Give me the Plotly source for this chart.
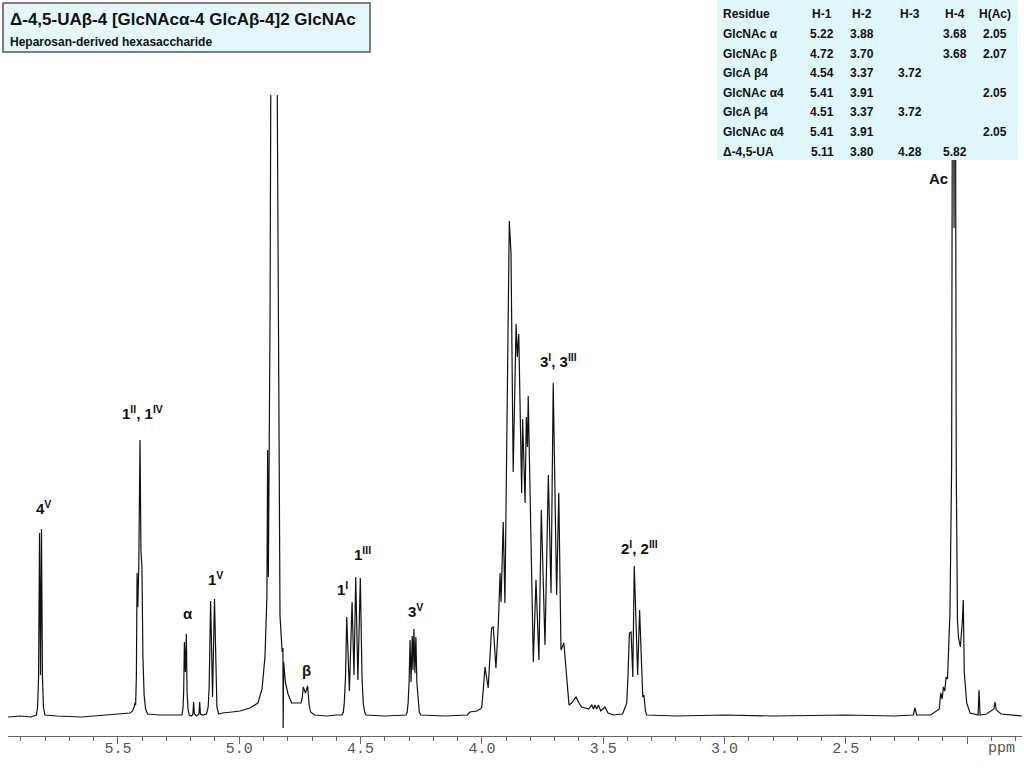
import plotly.graph_objects as go

# 1H NMR spectrum: chemical shift (ppm) and relative intensity
ppm = [5.953, 5.90, 5.86, 5.842,
       5.836, 5.831, 5.827, 5.823, 5.819, 5.815, 5.811, 5.807, 5.801,
       5.75, 5.65, 5.55, 5.47, 5.45,
       5.440, 5.433, 5.430, 5.427, 5.424, 5.421, 5.418, 5.414, 5.409, 5.405, 5.401, 5.397, 5.392, 5.386, 5.378,
       5.33, 5.26,
       5.236, 5.232, 5.229, 5.226, 5.222, 5.218, 5.215, 5.211, 5.206,
       5.196, 5.191, 5.188, 5.185, 5.176, 5.166, 5.163, 5.160, 5.150,
       5.135, 5.128, 5.124, 5.118, 5.110, 5.102, 5.096, 5.092, 5.085,
       5.07, 5.03, 4.997, 4.956, 4.923, 4.906, 4.894, 4.886, 4.883, 4.880, 4.873, 4.869,
       4.857, 4.845, 4.838, 4.832, 4.823, 4.820, 4.819, 4.817, 4.810, 4.799, 4.784, 4.766, 4.746,
       4.741, 4.736, 4.727, 4.718, 4.712, 4.706, 4.690,
       4.64, 4.60,
       4.576, 4.571, 4.567, 4.562, 4.557, 4.546, 4.535, 4.527, 4.520, 4.511, 4.501, 4.494, 4.489, 4.483, 4.478,
       4.40, 4.33,
       4.312, 4.308, 4.304, 4.300, 4.296, 4.292, 4.287, 4.284, 4.280, 4.276, 4.272, 4.268, 4.263, 4.258, 4.252,
       4.15, 4.06, 4.049, 4.020, 4.001, 3.995, 3.987, 3.974, 3.960, 3.953, 3.942, 3.932, 3.925, 3.921,
       3.912, 3.905, 3.897, 3.887, 3.880, 3.871, 3.859, 3.854, 3.848, 3.836, 3.832, 3.822, 3.817,
       3.812, 3.809, 3.799, 3.788, 3.777, 3.765, 3.755, 3.740, 3.726, 3.715, 3.706, 3.692, 3.683,
       3.674, 3.662, 3.650, 3.641, 3.630, 3.612, 3.600, 3.589, 3.560, 3.547, 3.540, 3.534, 3.527,
       3.520, 3.510, 3.493, 3.480, 3.458, 3.420,
       3.403, 3.398, 3.392, 3.385, 3.378, 3.372, 3.358, 3.350, 3.344, 3.337, 3.332, 3.326, 3.321,
       3.20, 3.00, 2.80, 2.50, 2.30, 2.222, 2.215, 2.208, 2.15,
       2.115, 2.109, 2.103, 2.098, 2.092, 2.087, 2.081, 2.078, 2.071, 2.064, 2.059, 2.054, 2.050,
       2.045, 2.040, 2.036, 2.028, 2.020, 2.016, 2.012, 2.002, 1.988, 1.955, 1.951, 1.947,
       1.92, 1.890, 1.885, 1.880, 1.86, 1.774]
intensity = [0, 1, 0, 1,
             2, 10, 40, 184, 42, 188, 40, 10, 2,
             1, 0, 2, 3, 4,
             6, 10, 14, 12, 40, 144, 110, 150, 277, 165, 150, 60, 22, 8, 3,
             2, 2,
             2, 8, 25, 75, 45, 83, 25, 8, 2,
             1, 3, 15, 3, 1, 3, 15, 3, 2,
             3, 10, 30, 116, 20, 118, 30, 10, 3,
             4, 5, 6, 9, 14, 28, 60, 120, 267, 140, 400, 700,
             3000, 700, 300, 101, 65, 69, -11, 55, 35, 23, 14, 14, 14,
             18, 30, 24, 31, 12, 5, 2,
             1, 2,
             2, 5, 14, 40, 100, 26, 115, 42, 140, 37, 139, 40, 14, 5, 2,
             1, 2,
             2, 5, 14, 35, 77, 35, 81, 47, 88, 44, 80, 35, 14, 5, 2,
             1, 2, 5, 6, 9, 25, 50, 29, 89, 90, 49, 94, 144, 115,
             195, 114, 300, 496, 464, 245, 393, 360, 383, 224, 298, 214, 300,
             270, 321, 182, 55, 137, 57, 207, 72, 242, 124, 334, 122, 224,
             67, 74, 34, 12, 14, 20, 14, 10, 8, 12, 8, 12, 8,
             12, 6, 10, 4, 2, 3,
             14, 40, 84, 85, 40, 151, 42, 107, 69, 20, 22, 6, 2,
             1, 2, 1, 2, 1, 2, 9, 2, 2,
             8, 24, 18, 30, 26, 40, 38, 57, 104, 250, 900, 489, 900,
             250, 97, 80, 70, 95, 117, 45, 14, 4, 2, 27, 2,
             3, 8, 15, 7, 3, 1]

# peak assignments
label_text = ["4<sup>V</sup>", "1<sup>II</sup>, 1<sup>IV</sup>", "α", "1<sup>V</sup>", "β",
              "1<sup>I</sup>", "1<sup>III</sup>", "3<sup>V</sup>", "3<sup>I</sup>, 3<sup>III</sup>",
              "2<sup>I</sup>, 2<sup>III</sup>", "Ac"]
label_ppm = [5.805, 5.397, 5.211, 5.096, 4.723, 4.573, 4.490, 4.273, 3.686, 3.352, 2.120]
label_height = [210, 305, 104, 139, 47, 129, 164, 107, 357, 170, 539]

# chemical shift table
table_header = ["Residue", "H-1", "H-2", "H-3", "H-4", "H(Ac)"]
residues = ["GlcNAc α", "GlcNAc β", "GlcA β4", "GlcNAc α4", "GlcA β4", "GlcNAc α4", "Δ-4,5-UA"]
h1 = ["5.22", "4.72", "4.54", "5.41", "4.51", "5.41", "5.11"]
h2 = ["3.88", "3.70", "3.37", "3.91", "3.37", "3.91", "3.80"]
h3 = ["", "", "3.72", "", "3.72", "", "4.28"]
h4 = ["3.68", "3.68", "", "", "", "", "5.82"]
hac = ["2.05", "2.07", "", "2.05", "", "2.05", ""]

tick_vals = [5.5, 5.0, 4.5, 4.0, 3.5, 3.0, 2.5, 2.0]
tick_text = ["5.5", "5.0", "4.5", "4.0", "3.5", "3.0", "2.5", ""]

title = "Δ-4,5-UAβ-4 [GlcNAcα-4 GlcAβ-4]2 GlcNAc"
subtitle = "Heparosan-derived hexasaccharide"

# page geometry (pixels)
W, H = 1024, 768
L, R, T, B = 8, 2, 95, 32


def px(x):
    return (x - L) / (W - L - R)


def py(y):
    return (H - B - y) / (H - T - B)


fig = go.Figure()
fig.add_trace(go.Scatter(x=ppm, y=intensity, mode="lines",
                         line=dict(color="#111", width=1.2), hoverinfo="skip"))

annotations = []
# peak labels
for t, xv, yv in zip(label_text, label_ppm, label_height):
    annotations.append(dict(x=xv, y=yv, xref="x", yref="y", text="<b>" + t + "</b>",
                            showarrow=False, xanchor="center", yanchor="middle",
                            font=dict(family="Liberation Sans", size=15, color="#111")))

# title box text
annotations.append(dict(x=px(8), y=py(20), xref="paper", yref="paper", text="<b>" + title + "</b>",
                        showarrow=False, xanchor="left", yanchor="middle",
                        font=dict(family="Liberation Sans", size=17, color="#111")))
annotations.append(dict(x=px(8), y=py(42), xref="paper", yref="paper", text="<b>" + subtitle + "</b>",
                        showarrow=False, xanchor="left", yanchor="middle",
                        font=dict(family="Liberation Sans", size=12, color="#111")))

# table text
col_x = [721, 822, 862, 910, 955, 995]
rows = [table_header] + [list(r) for r in zip(residues, h1, h2, h3, h4, hac)]
for i, row in enumerate(rows):
    yy = 14.5 + 19.6 * i
    for j, cell in enumerate(row):
        if cell == "":
            continue
        annotations.append(dict(x=px(col_x[j]), y=py(yy), xref="paper", yref="paper",
                                text="<b>" + cell + "</b>", showarrow=False,
                                xanchor="left" if j == 0 else "center", yanchor="middle",
                                font=dict(family="Liberation Sans", size=12, color="#111")))

# axis unit
annotations.append(dict(x=px(1001), y=py(748), xref="paper", yref="paper", text="ppm",
                        showarrow=False, xanchor="center", yanchor="middle",
                        font=dict(family="Liberation Mono", size=15, color="#555")))

shapes = [
    dict(type="rect", xref="paper", yref="paper", x0=px(3), x1=px(370), y0=py(52), y1=py(3),
         fillcolor="#e4f8fb", line=dict(color="#555", width=1.5), layer="above"),
    dict(type="rect", xref="paper", yref="paper", x0=px(717), x1=px(1018), y0=py(160), y1=py(0),
         fillcolor="#e0f7fa", line=dict(width=0), layer="above"),
]

fig.update_layout(
    width=W, height=H,
    margin=dict(l=L, r=R, t=T, b=B),
    paper_bgcolor="white", plot_bgcolor="white",
    showlegend=False,
    annotations=annotations,
    shapes=shapes,
    xaxis=dict(range=[5.953, 1.774], tickmode="array", tickvals=tick_vals, ticktext=tick_text,
               ticks="outside", ticklen=7, tickcolor="#666", tickwidth=1,
               ticklabelstandoff=-9,
               showline=True, linecolor="#666", linewidth=1,
               showgrid=False, zeroline=False,
               tickfont=dict(family="Liberation Mono", size=15, color="#555"),
               minor=dict(tickmode="linear", tick0=0, dtick=0.1, ticks="outside", ticklen=4,
                          tickcolor="#666", showgrid=False)),
    yaxis=dict(range=[-19, 622], visible=False, showgrid=False, zeroline=False),
)

# drop the default page margin so the figure sits at the window's top-left corner
fig.write_html("out.html", config={"displayModeBar": False},
               post_script="document.body.style.margin='0';")
